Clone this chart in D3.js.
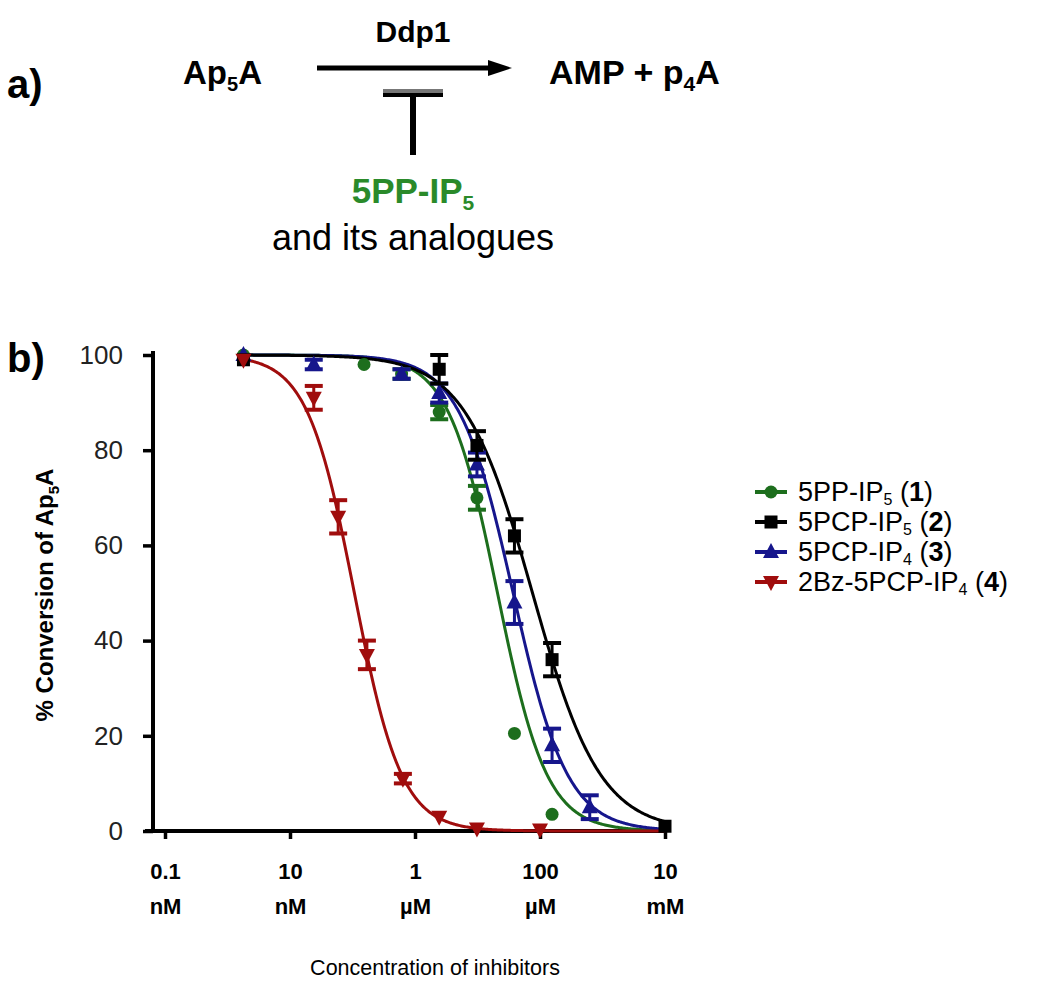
<!DOCTYPE html>
<html><head><meta charset="utf-8">
<script src="https://cdn.jsdelivr.net/npm/d3@7"></script>
<style>
html,body{margin:0;padding:0;background:#fff;}
svg{display:block;font-family:"Liberation Sans",Arial,sans-serif;}
</style></head>
<body>
<svg id="c" width="1050" height="984"></svg>
<script>
// ---- data ----
const seriesNames = ["5PP-IP5 (1)", "5PCP-IP5 (2)", "5PCP-IP4 (3)", "2Bz-5PCP-IP4 (4)"];
const seriesColors = ["#1d6e1d", "#000000", "#16168c", "#a00d0d"];
// concentrations in M
const concGreen = [1.8e-9, 1.53e-7, 6.1e-7, 2.44e-6, 9.8e-6, 3.9e-5, 1.56e-4];
const valGreen  = [100, 98, 96, 88, 70, 20.5, 3.5];
const errGreen  = [0.5, 0.5, 1, 1.5, 2.5, 0, 0];
const concBlack = [1.8e-9, 2.44e-6, 9.8e-6, 3.9e-5, 1.56e-4, 1e-2];
const valBlack  = [99, 97, 81, 62, 36, 1];
const errBlack  = [0.5, 3, 3, 3.5, 3.5, 0.5];
const concBlue  = [1.8e-9, 2.4e-8, 6.1e-7, 2.44e-6, 9.8e-6, 3.9e-5, 1.56e-4, 6.25e-4];
const valBlue   = [100, 98, 96, 92, 77, 48, 18, 5];
const errBlue   = [0.5, 1, 1, 2, 2.5, 4.5, 3.5, 2.5];
const concRed   = [1.8e-9, 2.4e-8, 5.9e-8, 1.7e-7, 6.4e-7, 2.44e-6, 9.8e-6, 1e-4];
const valRed    = [99, 91, 66, 37, 11, 3, 0.5, 0.3];
const errRed    = [0.5, 2.5, 3.5, 3, 1, 0.5, 0.3, 0.3];
// fitted sigmoid parameters (log10 IC50 in M, Hill slope)
const fitLogIC50 = [-4.68, -4.12, -4.43, -6.97];
const fitHill    = [1.1, 0.8, 1.0, 1.15];
const xTickVals  = [1e-10, 1e-8, 1e-6, 1e-4, 1e-2];
const xTickNums  = ["0.1", "10", "1", "100", "10"];
const xTickUnits = ["nM", "nM", "µM", "µM", "mM"];
const yTickVals  = [0, 20, 40, 60, 80, 100];

const series = [
  {c: concGreen, v: valGreen, e: errGreen, shape: "circle"},
  {c: concBlack, v: valBlack, e: errBlack, shape: "square"},
  {c: concBlue,  v: valBlue,  e: errBlue,  shape: "triUp"},
  {c: concRed,   v: valRed,   e: errRed,   shape: "triDown"}
];

const svg = d3.select("#c");
const F = '"Liberation Sans",Arial,sans-serif';

// ---- panel a ----
svg.append("text").attr("x",7).attr("y",98).attr("font-size",40).attr("font-weight","bold").text("a)");
svg.append("text").attr("x",413).attr("y",42).attr("text-anchor","middle").attr("font-size",30).attr("font-weight","bold").text("Ddp1");
const apa = svg.append("text").attr("x",183).attr("y",84).attr("font-size",33).attr("font-weight","bold");
apa.append("tspan").text("Ap");
apa.append("tspan").attr("font-size",20).attr("dy",7).text("5");
apa.append("tspan").attr("dy",-7).text("A");
svg.append("line").attr("x1",317).attr("x2",495).attr("y1",68).attr("y2",68).attr("stroke","#000").attr("stroke-width",5);
svg.append("path").attr("d","M488,60 L512,68 L488,76 Z").attr("fill","#000");
const amp = svg.append("text").attr("x",549).attr("y",84).attr("font-size",34).attr("font-weight","bold");
amp.append("tspan").text("AMP + p");
amp.append("tspan").attr("font-size",21).attr("dy",7).text("4");
amp.append("tspan").attr("dy",-7).text("A");
svg.append("rect").attr("x",383).attr("y",89).attr("width",60).attr("height",4).attr("fill","#777");
svg.append("rect").attr("x",383).attr("y",93).attr("width",60).attr("height",4).attr("fill","#000");
svg.append("rect").attr("x",410).attr("y",95).attr("width",6).attr("height",60).attr("fill","#000");
const pp = svg.append("text").attr("x",413).attr("y",203).attr("text-anchor","middle").attr("font-size",35).attr("font-weight","bold").attr("fill","#2a8a2a");
pp.append("tspan").text("5PP-IP");
pp.append("tspan").attr("font-size",21).attr("dy",7).text("5");
svg.append("text").attr("x",413).attr("y",250).attr("text-anchor","middle").attr("font-size",36).text("and its analogues");
svg.append("text").attr("x",7).attr("y",372).attr("font-size",40).attr("font-weight","bold").text("b)");

// ---- panel b ----
const x = d3.scaleLog().domain([1e-10, 1e-2]).range([165, 665]);
const y = d3.scaleLinear().domain([0, 100]).range([831, 355]);

const gy = svg.append("g").attr("transform","translate(153,0)")
  .call(d3.axisLeft(y).tickValues(yTickVals).tickSize(10).tickPadding(20).tickFormat(d3.format("d")));
gy.select(".domain").attr("stroke","#000").attr("stroke-width",4).attr("d","M0,351V833");
gy.selectAll(".tick line").attr("stroke","#000").attr("stroke-width",3.5);
gy.selectAll(".tick text").attr("font-size",26).attr("font-family",F).attr("fill","#222");

const gx = svg.append("g").attr("transform","translate(0,831)")
  .call(d3.axisBottom(x).tickValues(xTickVals).tickSize(8).tickFormat(""));
gx.select(".domain").attr("stroke","#000").attr("stroke-width",4).attr("d","M145,0H667");
gx.selectAll(".tick line").attr("stroke","#000").attr("stroke-width",3.5);
gx.selectAll(".tick").each(function(d,i){
  const t = d3.select(this).append("text").attr("text-anchor","middle").attr("font-family",F)
    .attr("font-weight","bold").attr("font-size",22).attr("fill","#000");
  t.append("tspan").attr("x",0).attr("y",48).text(xTickNums[i]);
  t.append("tspan").attr("x",0).attr("y",83).text(xTickUnits[i]);
});

svg.append("text").attr("x",435).attr("y",975).attr("text-anchor","middle").attr("font-size",21.5).text("Concentration of inhibitors");

const yl = svg.append("text").attr("transform","translate(53,595) rotate(-90)").attr("text-anchor","middle")
  .attr("font-size",24).attr("font-weight","bold");
yl.append("tspan").text("% Conversion of Ap");
yl.append("tspan").attr("font-size",15).attr("dy",6).text("5");
yl.append("tspan").attr("dy",-6).text("A");

// fitted curves
const logGrid = d3.range(-8.74, -1.99, 0.02);
const line = d3.line().x(d => x(Math.pow(10,d[0]))).y(d => y(d[1])).curve(d3.curveLinear);
const drawOrder = [0,2,1,3];
drawOrder.forEach(i => {
  const pts = logGrid.map(l => [l, 100/(1+Math.pow(10, fitHill[i]*(l - fitLogIC50[i])))]);
  svg.append("path").attr("d", line(pts)).attr("fill","none").attr("stroke",seriesColors[i]).attr("stroke-width",3);
});

function marker(g, shape, cx, cy, col){
  if(shape==="circle") g.append("circle").attr("cx",cx).attr("cy",cy).attr("r",6.5).attr("fill",col);
  else if(shape==="square") g.append("rect").attr("x",cx-6.5).attr("y",cy-6.5).attr("width",13).attr("height",13).attr("fill",col);
  else if(shape==="triUp") g.append("path").attr("d",`M${cx},${cy-9}L${cx+8},${cy+6}L${cx-8},${cy+6}Z`).attr("fill",col);
  else g.append("path").attr("d",`M${cx},${cy+9}L${cx+8},${cy-6}L${cx-8},${cy-6}Z`).attr("fill",col);
}

drawOrder.forEach(i => {
  const s = series[i], col = seriesColors[i];
  const g = svg.append("g");
  s.c.forEach((c,k) => {
    const cx = x(c), cy = y(s.v[k]), e = s.e[k];
    if(e > 0.6){
      const y1 = y(Math.min(100, s.v[k]+e)), y2 = y(Math.max(0, s.v[k]-e));
      g.append("line").attr("x1",cx).attr("x2",cx).attr("y1",y1).attr("y2",y2).attr("stroke",col).attr("stroke-width",3);
      [y1,y2].forEach(yy => g.append("line").attr("x1",cx-9).attr("x2",cx+9).attr("y1",yy).attr("y2",yy).attr("stroke",col).attr("stroke-width",4));
    }
    marker(g, s.shape, cx, cy, col);
  });
});

// legend
const legY = [492, 522, 552, 582];
seriesNames.forEach((n,i) => {
  const col = seriesColors[i];
  const g = svg.append("g");
  g.append("line").attr("x1",755).attr("x2",787).attr("y1",legY[i]).attr("y2",legY[i]).attr("stroke",col).attr("stroke-width",4);
  marker(g, series[i].shape, 771, legY[i], col);
  const m = n.match(/^(.*IP)(\d) \((\d)\)$/);
  const t = g.append("text").attr("x",798).attr("y",legY[i]+9).attr("font-size",27).attr("fill","#000");
  t.append("tspan").text(m[1]);
  t.append("tspan").attr("font-size",16).attr("dy",4).text(m[2]);
  t.append("tspan").attr("dy",-4).text(" (");
  t.append("tspan").attr("font-weight","bold").text(m[3]);
  t.append("tspan").text(")");
});
</script>
</body></html>
